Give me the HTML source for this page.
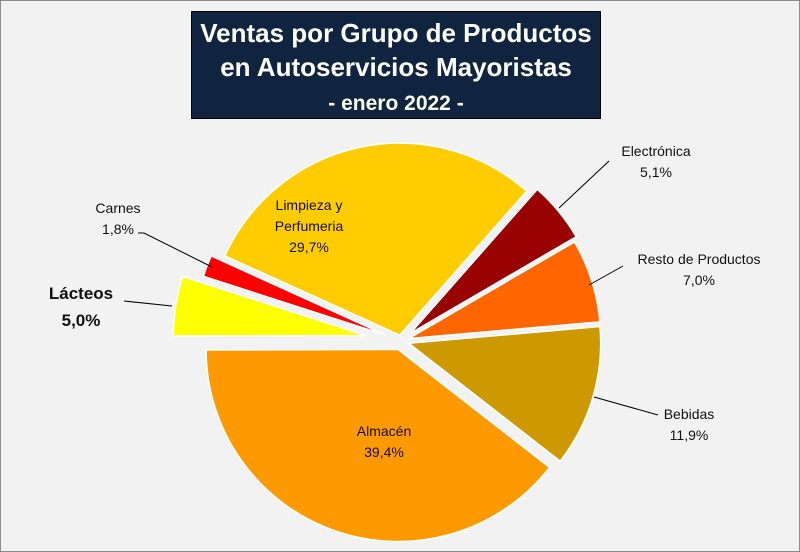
<!DOCTYPE html>
<html><head><meta charset="utf-8"><style>
body{margin:0;background:#fff}
#wrap{position:relative;width:798px;height:550px;border:1px solid #8c8c8c;background:#f2f2f2;font-family:"Liberation Sans",sans-serif;overflow:hidden}
#title{position:absolute;left:190px;top:10px;width:410px;height:108px;background:#10243f;border:1px solid #000;color:#fff;font-weight:bold;text-align:center;font-size:26px;line-height:34px;padding-top:4px;box-sizing:border-box}
#title .sub{font-size:21px}
text{font-family:"Liberation Sans",sans-serif;font-size:14px;fill:#111}
</style></head><body>
<div id="wrap">
<div id="title">Ventas por Grupo de Productos<br>en Autoservicios Mayoristas<br><span class="sub">- enero 2022 -</span></div>
<svg id="pie" width="798" height="550" style="position:absolute;left:0;top:0"></svg>
</div>
<script>
const categories=["Electrónica","Resto de Productos","Bebidas","Almacén","Lácteos","Carnes","Limpieza y Perfumeria"];
const values=[5.1,7.0,11.9,39.4,5.0,1.8,29.7];
const labels=["5,1%","7,0%","11,9%","39,4%","5,0%","1,8%","29,7%"];
const colors=["#990000","#ff6600","#cc9900","#ff9900","#ffff00","#ff0000","#ffcc00"];
const explode=[12,8,8,9,36,16,6];
const startDeg=41.4;
const cx=400,cy=340,R=192;
const svg=document.getElementById('pie');
const NS='http://www.w3.org/2000/svg';
const total=values.reduce((a,b)=>a+b,0);
function pt(x,y,deg,r){const a=(deg-90)*Math.PI/180;return [x+r*Math.cos(a),y+r*Math.sin(a)];}
let ang=startDeg;
values.forEach((v,i)=>{
  const sweep=v/total*360, mid=ang+sweep/2;
  const [ox,oy]=pt(cx,cy,mid,explode[i]);
  const p1=pt(ox,oy,ang,R),p2=pt(ox,oy,ang+sweep,R);
  const path=document.createElementNS(NS,'path');
  path.setAttribute('d',`M${ox},${oy}L${p1[0]},${p1[1]}A${R},${R} 0 ${sweep>180?1:0} 1 ${p2[0]},${p2[1]}Z`);
  path.setAttribute('fill',colors[i]);
  path.setAttribute('stroke','#fff');path.setAttribute('stroke-width','1.5');
  
  
  svg.appendChild(path);
  ang+=sweep;
});
const lab=[
 {x:655,y:155,l:[[608,160],[558,207]]},
 {x:698,y:263,l:[[622,265],[588,284]]},
 {x:688,y:418,l:[[657,414],[593,396]]},
 {x:383,y:435},
 {x:80,y:298,big:true,l:[[123,300],[171,305]]},
 {x:117,y:212,l:[[137,232],[143,232],[211,266]]},
 {x:308,y:209}
];
lab.forEach((L,i)=>{
  if(L.l){const pl=document.createElementNS(NS,'polyline');
    pl.setAttribute('points',L.l.map(p=>p.join(',')).join(' '));
    pl.setAttribute('fill','none');pl.setAttribute('stroke','#000');pl.setAttribute('stroke-width','1');
    
    
    svg.appendChild(pl);}
  const t=document.createElementNS(NS,'text');
  t.setAttribute('text-anchor','middle');
  
  
  if(L.big){t.style.fontSize='17px';t.style.fontWeight='bold';}
  const lines=categories[i]==="Limpieza y Perfumeria"?["Limpieza y","Perfumeria",labels[i]]:[categories[i],labels[i]];
  const lh=L.big?27:21;
  lines.forEach((s,k)=>{const ts=document.createElementNS(NS,'tspan');ts.setAttribute('x',L.x);ts.setAttribute('y',L.y+k*lh);ts.textContent=s;t.appendChild(ts);});
  svg.appendChild(t);
});
</script>
</body></html>
